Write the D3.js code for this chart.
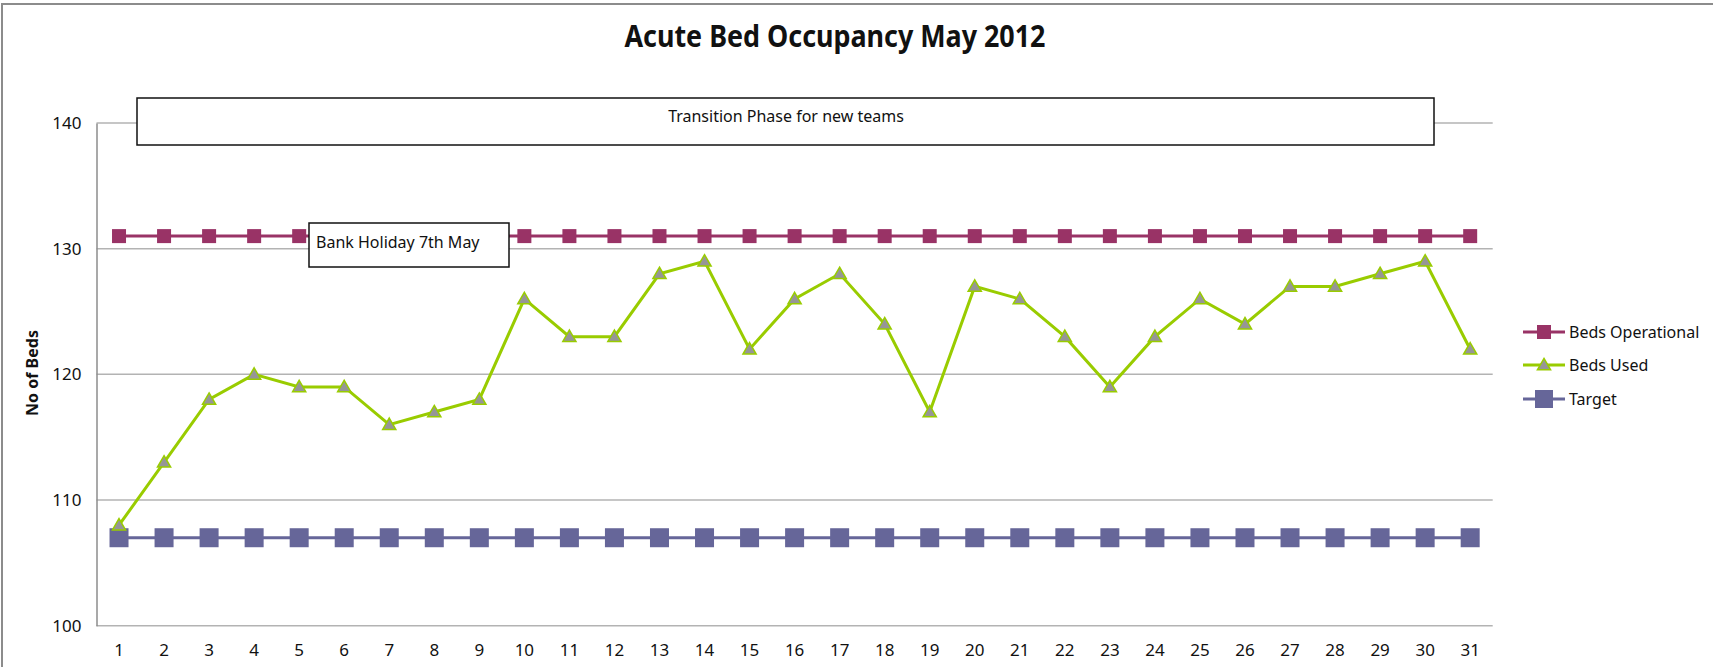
<!DOCTYPE html>
<html>
<head>
<meta charset="utf-8">
<script src="https://cdn.jsdelivr.net/npm/d3@7"></script>
<style>
  body { margin: 0; background: #fff; }
  text { font-family: "Noto Sans", sans-serif; fill: #111; }
</style>
</head>
<body>
<svg id="chart" width="1713" height="667"></svg>
<script>
// data
const days = d3.range(1, 32);
const bedsOperational = days.map(() => 131);
const bedsUsed = [108, 113, 118, 120, 119, 119, 116, 117, 118, 126, 123, 123, 128, 129, 122,
                  126, 128, 124, 117, 127, 126, 123, 119, 123, 126, 124, 127, 127, 128, 129, 122];
const target = days.map(() => 107);
const yTicks = [100, 110, 120, 130, 140];
const legendNames = ["Beds Operational", "Beds Used", "Target"];

const svg = d3.select("#chart");

// outer chart-area border
svg.append("rect")
    .attr("x", 2).attr("y", 4)
    .attr("width", 1730).attr("height", 700)
    .attr("fill", "none")
    .attr("stroke", "#8c8c8c")
    .attr("stroke-width", 2);

const plot = { left: 96.5, right: 1492.7, top: 123, bottom: 625.7 };

const x = d3.scaleBand().domain(days).range([plot.left, plot.right]);
const cx = d => x(d) + x.bandwidth() / 2;
const y = d3.scaleLinear().domain([100, 140]).range([plot.bottom, plot.top]);

// gridlines
svg.append("g")
    .selectAll("line")
    .data(yTicks)
    .enter().append("line")
    .attr("x1", plot.left).attr("x2", plot.right)
    .attr("y1", d => y(d)).attr("y2", d => y(d))
    .attr("stroke", "#b3b3b3")
    .attr("stroke-width", 1.5);

// y axis
const yAxis = svg.append("g")
    .attr("transform", `translate(${plot.left},0)`)
    .call(d3.axisLeft(y).tickValues(yTicks).tickSize(0).tickPadding(15));
yAxis.select(".domain").attr("stroke", "#8c8c8c").attr("stroke-width", 1.5);
yAxis.selectAll("text").attr("font-size", 17).attr("font-family", "Noto Sans").attr("fill", "#111");

// x axis labels
const xAxis = svg.append("g")
    .attr("transform", `translate(0,${plot.bottom})`)
    .call(d3.axisBottom(x).tickSize(0).tickPadding(18));
xAxis.select(".domain").remove();
xAxis.selectAll("text").attr("font-size", 17).attr("font-family", "Noto Sans").attr("fill", "#111");

// title (narrow bold look)
svg.append("text")
    .attr("x", 835).attr("y", 47)
    .attr("text-anchor", "middle")
    .attr("font-family", "Liberation Sans Narrow, Arial Narrow, Liberation Sans, sans-serif")
    .attr("font-weight", "bold")
    .attr("font-size", 31)
    .attr("textLength", 421)
    .attr("lengthAdjust", "spacingAndGlyphs")
    .text("Acute Bed Occupancy May 2012");

// y axis title
svg.append("text")
    .attr("transform", "translate(38,373) rotate(-90)")
    .attr("text-anchor", "middle")
    .attr("font-weight", "bold")
    .attr("font-size", 16)
    .text("No of Beds");

const line = d3.line().x((d, i) => cx(days[i])).y(d => y(d));

// Target
svg.append("path").datum(target)
    .attr("d", line).attr("fill", "none")
    .attr("stroke", "#666699").attr("stroke-width", 3);
svg.append("g").selectAll("rect").data(target).enter().append("rect")
    .attr("x", (d, i) => cx(days[i]) - 9.5).attr("y", d => y(d) - 9.5)
    .attr("width", 19).attr("height", 19)
    .attr("fill", "#666699");

// Beds Operational
svg.append("path").datum(bedsOperational)
    .attr("d", line).attr("fill", "none")
    .attr("stroke", "#993366").attr("stroke-width", 3);
svg.append("g").selectAll("rect").data(bedsOperational).enter().append("rect")
    .attr("x", (d, i) => cx(days[i]) - 7).attr("y", d => y(d) - 7)
    .attr("width", 14).attr("height", 14)
    .attr("fill", "#993366");

// Beds Used
const tri = d3.symbol().type(d3.symbolTriangle).size(75);
svg.append("path").datum(bedsUsed)
    .attr("d", line).attr("fill", "none")
    .attr("stroke", "#99cc00").attr("stroke-width", 3);
svg.append("g").selectAll("path").data(bedsUsed).enter().append("path")
    .attr("d", tri)
    .attr("transform", (d, i) => `translate(${cx(days[i])},${y(d) + 1})`)
    .attr("fill", "#969696")
    .attr("stroke", "#99cc00").attr("stroke-width", 1.5);

// annotation boxes
svg.append("rect")
    .attr("x", 137).attr("y", 98)
    .attr("width", 1297).attr("height", 47)
    .attr("fill", "#fff").attr("stroke", "#111").attr("stroke-width", 1.5);
svg.append("text")
    .attr("x", 786).attr("y", 122)
    .attr("text-anchor", "middle")
    .attr("font-size", 16)
    .text("Transition Phase for new teams");

svg.append("rect")
    .attr("x", 309).attr("y", 223)
    .attr("width", 200).attr("height", 44)
    .attr("fill", "#fff").attr("stroke", "#111").attr("stroke-width", 1.5);
svg.append("text")
    .attr("x", 316).attr("y", 248)
    .attr("font-size", 16)
    .text("Bank Holiday 7th May");

// legend
const legendColors = ["#993366", "#99cc00", "#666699"];
const legendY = [332, 365, 399];
const legend = svg.append("g");
legendNames.forEach((name, i) => {
    const g = legend.append("g").attr("transform", `translate(1523,${legendY[i]})`);
    g.append("line").attr("x1", 0).attr("x2", 42)
        .attr("stroke", legendColors[i]).attr("stroke-width", 3);
    if (i === 0) {
        g.append("rect").attr("x", 14).attr("y", -7).attr("width", 14).attr("height", 14).attr("fill", legendColors[i]);
    } else if (i === 1) {
        g.append("path").attr("d", tri).attr("transform", "translate(21,1)")
            .attr("fill", "#969696").attr("stroke", "#99cc00").attr("stroke-width", 1.5);
    } else {
        g.append("rect").attr("x", 12).attr("y", -9).attr("width", 18).attr("height", 18).attr("fill", legendColors[i]);
    }
    g.append("text").attr("x", 46).attr("y", 6)
        .attr("font-size", 16)
        .text(name);
});
</script>
</body>
</html>
